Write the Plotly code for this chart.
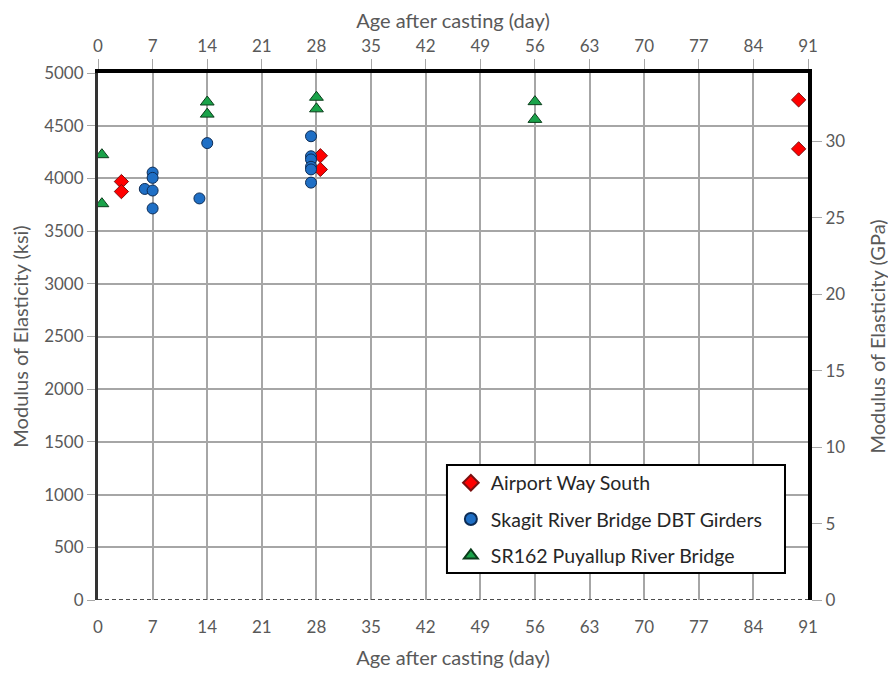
import plotly.graph_objects as go

# Data (age in days, modulus in ksi)
airport_days = [3, 3, 28.5, 28.5, 89.8, 89.8]
airport_ksi = [3970, 3875, 4215, 4085, 4745, 4280]

skagit_days = [6, 7, 7, 7, 7, 13, 14, 27.3, 27.3, 27.3, 27.3, 27.3, 27.3]
skagit_ksi = [3900, 4055, 4005, 3885, 3715, 3810, 4335, 4400, 4210, 4180, 4110, 4085, 3960]

sr162_days = [0.5, 0.5, 14, 14, 28, 28, 56, 56]
sr162_ksi = [4225, 3760, 4725, 4610, 4770, 4660, 4728, 4560]

x_ticks = [0, 7, 14, 21, 28, 35, 42, 49, 56, 63, 70, 77, 84, 91]
y_ticks_ksi = [0, 500, 1000, 1500, 2000, 2500, 3000, 3500, 4000, 4500, 5000]
y_ticks_gpa = [0, 5, 10, 15, 20, 25, 30]
KSI_PER_GPA = 145.038

FONT = "Lato, Open Sans, sans-serif"
GREY = "#595959"
TICKF = dict(size=17, color=GREY)
TITLEF = dict(size=20, color=GREY)

fig = go.Figure()
fig.add_trace(go.Scatter(x=airport_days, y=airport_ksi, mode="markers", name="Airport Way South",
                         legendgroup="a",
                         marker=dict(symbol="diamond", size=11, color="#FF0000",
                                     line=dict(color="#7a1010", width=1))))
fig.add_trace(go.Scatter(x=skagit_days, y=skagit_ksi, mode="markers", name="Skagit River Bridge DBT Girders",
                         legendgroup="b",
                         marker=dict(symbol="circle", size=11, color="#1F6FC5",
                                     line=dict(color="#0d2c55", width=1))))
fig.add_trace(go.Scatter(x=sr162_days, y=sr162_ksi, mode="markers", name="SR162 Puyallup River Bridge",
                         legendgroup="c",
                         marker=dict(symbol="triangle-up", size=12, color="#1AA34A",
                                     line=dict(color="#0b3d1b", width=1))))
# invisible trace to activate secondary axes
fig.add_trace(go.Scatter(x=[0], y=[0], xaxis="x2", yaxis="y2", mode="markers",
                         marker=dict(opacity=0), showlegend=False, hoverinfo="skip"))

fig.update_layout(
    width=896, height=673,
    margin=dict(l=90, r=96, t=65, b=81, autoexpand=False),
    paper_bgcolor="white", plot_bgcolor="white",
    font=dict(family=FONT, size=17, color=GREY),
    xaxis=dict(range=[0, 91], tickvals=x_ticks, ticktext=[str(v) for v in x_ticks],
               showgrid=True, gridcolor="#A6A6A6", gridwidth=2, tickfont=TICKF,
               zeroline=False, showline=False, ticks="outside", ticklen=12, tickcolor="rgba(0,0,0,0)",
               title=dict(text="Age after casting (day)", font=TITLEF, standoff=14)),
    xaxis2=dict(range=[0, 91], tickvals=x_ticks, ticktext=[str(v) for v in x_ticks],
                overlaying="x", side="top", showgrid=False, zeroline=False, tickfont=TICKF,
                showline=True, linecolor="black", linewidth=4,
                ticks="outside", ticklen=10, tickcolor="#A6A6A6",
                title=dict(text="Age after casting (day)", font=TITLEF, standoff=8)),
    yaxis=dict(range=[0, 5000], tickvals=y_ticks_ksi, ticktext=[str(v) for v in y_ticks_ksi],
               showgrid=True, gridcolor="#A6A6A6", gridwidth=2, zeroline=False, tickfont=TICKF,
               showline=True, linecolor="#333333", linewidth=3,
               ticks="outside", ticklen=8, tickcolor="#A6A6A6",
               title=dict(text="Modulus of Elasticity (ksi)", font=TITLEF, standoff=12)),
    yaxis2=dict(range=[0, 5000 / KSI_PER_GPA], tickvals=y_ticks_gpa, ticktext=[str(v) for v in y_ticks_gpa],
                overlaying="y", side="right", showgrid=False, zeroline=False, tickfont=TICKF,
                showline=True, linecolor="black", linewidth=4,
                ticks="outside", ticklen=10, tickcolor="#A6A6A6",
                title=dict(text="Modulus of Elasticity (GPa)", font=TITLEF, standoff=28)),
    legend=dict(x=0.497, y=0.259, xanchor="left", yanchor="top",
                bgcolor="rgba(0,0,0,0)", borderwidth=0,
                font=dict(size=19.5, color="#262626"), itemsizing="constant",
                tracegroupgap=8, itemwidth=30),
    showlegend=True,
)

# legend frame
fig.add_shape(type="rect", xref="paper", yref="paper", x0=0.4915, x1=0.9676, y0=0.0512, y1=0.2562,
              fillcolor="white", line=dict(color="black", width=2), layer="above")

# dashed baseline at y = 0
fig.add_shape(type="line", xref="paper", yref="y", x0=0, x1=1, y0=0, y1=0,
              line=dict(color="#4d4d4d", width=2, dash="4px,3px"))

fig.write_html("out.html")
